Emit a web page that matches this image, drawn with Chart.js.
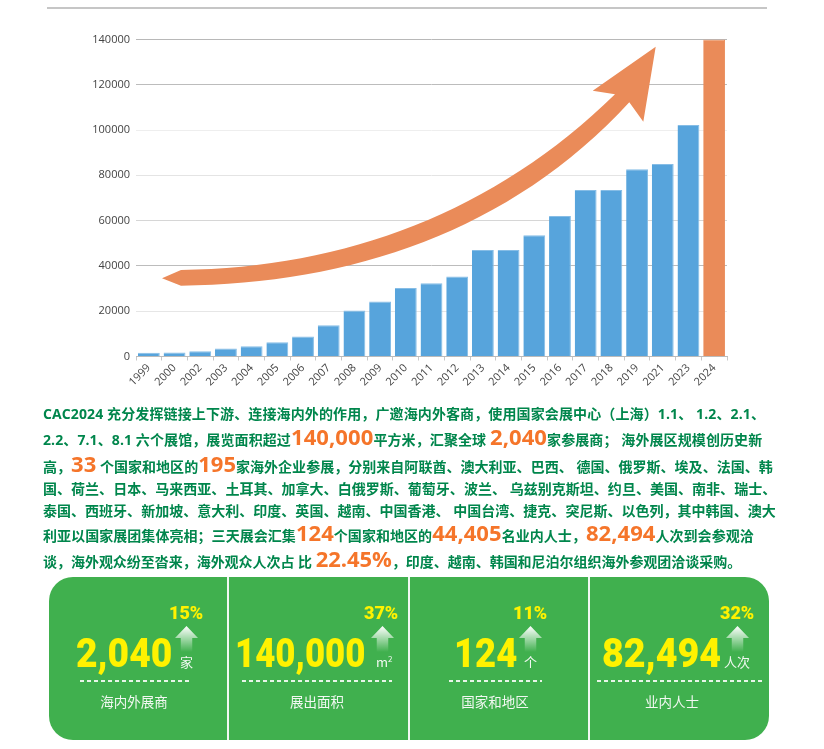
<!DOCTYPE html>
<html>
<head>
<meta charset="utf-8">
<script src="https://cdn.jsdelivr.net/npm/chart.js@4"></script>
<style>
    html, body { margin: 0; padding: 0; background: #fff; }
    body { position: relative; width: 824px; height: 749px; overflow: hidden; font-family: "Noto Sans CJK SC", sans-serif; }
    #top-rule { position: absolute; left: 47px; top: 7px; width: 720px; height: 2px; background: #c6c6c6; }
    #area-chart { position: absolute; left: 0; top: 0; }
    .line { position: absolute; left: 43px; white-space: nowrap; color: #00864c; font-weight: 700; font-size: 14px; line-height: 30px; height: 30px; font-family: "Open Sans", "Noto Sans CJK SC", sans-serif; }
    .line b { color: #f5752a; font-size: 22px; font-weight: 700; line-height: 0; }
    #panel { position: absolute; left: 49px; top: 577px; width: 720px; height: 163px; background: #40b04e; border-radius: 24px; }
    .divider { position: absolute; top: 577px; width: 2px; height: 163px; background: #f2f8f2; }
    .big { position: absolute; top: 631px; line-height: 46px; font-family: Roboto, sans-serif; font-weight: 900; font-size: 40px; color: #fff200; white-space: nowrap; transform-origin: left center; }
    .pct { position: absolute; top: 601px; line-height: 24px; font-family: Roboto, sans-serif; font-weight: 900; font-size: 18px; color: #fff200; white-space: nowrap; }
    .unit { position: absolute; top: 652px; line-height: 20px; font-size: 13px; color: #f2f8f2; white-space: nowrap; }
    .unit sup { font-size: 8px; line-height: 0; }
    .dash { position: absolute; top: 680px; height: 1.5px; background: repeating-linear-gradient(90deg, #e8f5e8 0 4px, transparent 4px 7px); }
    .name { position: absolute; top: 691px; width: 120px; text-align: center; line-height: 20px; font-size: 13.5px; color: #f2f8f2; }
    .up { position: absolute; top: 626px; width: 23px; height: 26px; background: linear-gradient(#ffffff 0%, rgba(255,255,255,0.45) 55%, rgba(255,255,255,0) 100%); clip-path: polygon(50% 0, 100% 46%, 75% 46%, 75% 100%, 25% 100%, 25% 46%, 0 46%); }
</style>
</head>
<body>
<div id="top-rule"></div>
<canvas id="area-chart" width="824" height="400"></canvas>

<div class="line" style="top:399px;letter-spacing:.12px">CAC2024 充分发挥链接上下游、连接海内外的作用，广邀海内外客商，使用国家会展中心（上海）1.1、 1.2、2.1、</div>
<div class="line" style="top:425px;letter-spacing:.1px">2.2、7.1、8.1 六个展馆，展览面积超过<b>140,000</b>平方米，汇聚全球 <b>2,040</b>家参展商； 海外展区规模创历史新</div>
<div class="line" style="top:452px;letter-spacing:.03px">高，<b>33</b> 个国家和地区的<b>195</b>家海外企业参展，分别来自阿联酋、澳大利亚、巴西、 德国、俄罗斯、埃及、法国、韩</div>
<div class="line" style="top:474px;letter-spacing:.03px">国、荷兰、日本、马来西亚、土耳其、加拿大、白俄罗斯、葡萄牙、波兰、 乌兹别克斯坦、约旦、美国、南非、瑞士、</div>
<div class="line" style="top:496px;letter-spacing:.02px">泰国、西班牙、新加坡、意大利、印度、英国、越南、中国香港、 中国台湾、捷克、突尼斯、以色列，其中韩国、澳大</div>
<div class="line" style="top:521px;letter-spacing:.05px">利亚以国家展团集体亮相；三天展会汇集<b>124</b>个国家和地区的<b>44,405</b>名业内人士，<b>82,494</b>人次到会参观洽</div>
<div class="line" style="top:547px;letter-spacing:-.03px">谈，海外观众纷至沓来，海外观众人次占 比 <b>22.45%</b>，印度、越南、韩国和尼泊尔组织海外参观团洽谈采购。</div>

<div id="panel"></div>
<div class="divider" style="left:227px"></div>
<div class="divider" style="left:408px"></div>
<div class="divider" style="left:588px"></div>

<div class="big" style="left:76px;transform:scaleX(.93)">2,040</div>
<div class="pct" style="left:169px">15%</div>
<div class="up" style="left:175px"></div>
<div class="unit" style="left:180px">家</div>
<div class="dash" style="left:80px;width:110px"></div>
<div class="name" style="left:74px">海内外展商</div>

<div class="big" style="left:235px;transform:scaleX(.87)">140,000</div>
<div class="pct" style="left:364px">37%</div>
<div class="up" style="left:371px"></div>
<div class="unit" style="left:376px">m<sup>2</sup></div>
<div class="dash" style="left:242px;width:150px"></div>
<div class="name" style="left:257px">展出面积</div>

<div class="big" style="left:454px;transform:scaleX(.91)">124</div>
<div class="pct" style="left:513px">11%</div>
<div class="up" style="left:519px"></div>
<div class="unit" style="left:524px">个</div>
<div class="dash" style="left:449px;width:93px"></div>
<div class="name" style="left:435px">国家和地区</div>

<div class="big" style="left:602px;transform:scaleX(.94)">82,494</div>
<div class="pct" style="left:720px">32%</div>
<div class="up" style="left:726px"></div>
<div class="unit" style="left:724px">人次</div>
<div class="dash" style="left:597px;width:165px"></div>
<div class="name" style="left:612px">业内人士</div>

<script>
const years = ["1999", "2000", "2002", "2003", "2004", "2005", "2006", "2007", "2008", "2009", "2010", "2011", "2012", "2013", "2014", "2015", "2016", "2017", "2018", "2019", "2021", "2023", "2024"];
const areaValues = [1700, 1800, 2300, 3500, 4500, 6300, 8800, 13800, 20300, 24300, 30200, 32400, 35300, 47000, 47000, 53600, 62000, 73500, 73500, 82700, 85000, 102200, 140000];
const yTicks = [0, 20000, 40000, 60000, 80000, 100000, 120000, 140000];

const BLUE = "#57a4dc";
const ORANGE = "#ea8b59";
// the picture's gridlines are not all the same grey, bottom to top
const gridGreys = ["#bbbbbb", "#e6e6e6", "#bcbcbc", "#d6d6d6", "#e4e4e4", "#eeeeee", "#bcbcbc", "#b8b8b8"];

// the big decorative arrow over the bars, two long beziers for the shaft
const growthArrow = {
    id: "growthArrow",
    afterDatasetsDraw(chart) {
        const ctx = chart.ctx;
        ctx.save();
        ctx.fillStyle = ORANGE;
        ctx.beginPath();
        ctx.moveTo(162, 278.3);
        ctx.lineTo(181, 270);
        ctx.bezierCurveTo(345, 268, 495, 212, 615, 94.3);
        ctx.lineTo(592.7, 90.7);
        ctx.lineTo(655.7, 46.7);
        ctx.lineTo(643.3, 121.7);
        ctx.lineTo(629.3, 102.3);
        ctx.bezierCurveTo(510, 232, 350, 284, 181, 285.7);
        ctx.closePath();
        ctx.fill();
        ctx.restore();
    }
};

new Chart(document.getElementById("area-chart"), {
    type: "bar",
    data: {
        labels: years,
        datasets: [{
            data: areaValues,
            backgroundColor: ctx => ctx.dataIndex === years.length - 1 ? ORANGE : BLUE,
            borderColor: ctx => ctx.dataIndex === years.length - 1 ? ORANGE : "#86bde6",
            borderWidth: { top: 1, right: 1 },
            categoryPercentage: 1,
            barPercentage: 0.85
        }]
    },
    options: {
        responsive: false,
        animation: false,
        layout: { padding: { top: 39.5, right: 97, left: 0, bottom: 0 } },
        plugins: { legend: { display: false }, tooltip: { enabled: false } },
        scales: {
            x: {
                grid: { drawOnChartArea: false, tickLength: 4, tickColor: "#c8c8c8" },
                border: { color: "#bbbbbb" },
                ticks: { color: "#444", font: { family: "Open Sans", size: 11 }, maxRotation: 45, minRotation: 45, autoSkip: false, padding: 1 },
                afterFit: scale => { scale.height = 43.5; }
            },
            y: {
                min: 0,
                max: 140000,
                afterBuildTicks: scale => { scale.ticks = yTicks.map(v => ({ value: v })); },
                grid: { drawTicks: false, color: ctx => gridGreys[ctx.index] },
                border: { display: false },
                ticks: { color: "#444", font: { family: "Open Sans", size: 11 }, padding: 6, callback: v => String(v) },
                afterFit: scale => { scale.width = 136; }
            }
        }
    },
    plugins: [growthArrow]
});
</script>
</body>
</html>
